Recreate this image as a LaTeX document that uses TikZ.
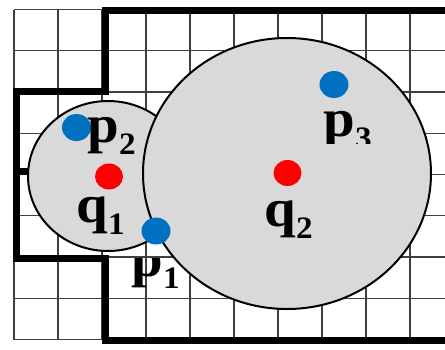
\documentclass[tikz,border=0pt]{standalone}
\usepackage{fontspec}
\setmainfont{Liberation Serif}
\definecolor{cgray}{HTML}{D9D9D9}
\definecolor{cblue}{HTML}{0070C0}
\definecolor{cred}{HTML}{FF0000}
\newcommand\lablx[2]{\scalebox{1.066}[1]{\fontsize{26.7}{28}\selectfont\bfseries #1\raisebox{-6pt}{\fontsize{15.6}{16}\selectfont #2}}}
\begin{document}
\begin{tikzpicture}[x=0.5pt,y=-0.5pt,
  gridline/.style={draw=black!75,line width=0.55pt},
  wall/.style={draw=black,line width=3.5pt,line join=miter},
  disc/.style={fill=cgray,draw=black,line width=1pt},
  lbl/.style={anchor=base west,inner sep=0pt}]
\useasboundingbox (0,0) rectangle (445,349);
% grid
\foreach \i in {0,...,9} \draw[gridline] ({14+44*\i},9.5) -- ({14+44*\i},339.5);
\foreach \j in {0,...,8} \draw[gridline] (14,{9.5+41.25*\j}) -- (445,{9.5+41.25*\j});
% walls
\draw[wall] (445,10) -- (105,10) -- (105,91.5) -- (16.5,91.5) -- (16.5,258) -- (105,258) -- (105,340) -- (445,340);
\draw[wall] (16.5,171) -- (45,171);
% circles
\coordinate (c1) at (108,176);
\coordinate (c2) at (287,173.5);
\draw[disc] (c1) ellipse [x radius=80, y radius=75];
\draw[disc] (c2) ellipse [x radius=144, y radius=135.5];
% dots
\coordinate (q1) at (109,176.5);
\coordinate (q2) at (287.5,173);
\coordinate (p1) at (156,231);
\coordinate (p2) at (76.5,127.5);
\coordinate (p3) at (334,84.5);
\fill[cred] (q1) ellipse [x radius=14, y radius=13];
\fill[cred] (q2) ellipse [x radius=14, y radius=13];
\fill[cblue] (p1) ellipse [x radius=14.5, y radius=13.5];
\fill[cblue] (p2) ellipse [x radius=14.5, y radius=13.5];
\fill[cblue] (p3) ellipse [x radius=14.5, y radius=13.5];
% labels
\node[lbl] (lp2) at (87,142) {\lablx{p}{2}};
\node[lbl] (lq1) at (76,222) {\lablx{q}{1}};
\node[lbl] (lq2) at (264,226) {\lablx{q}{2}};
\begin{scope}
\clip (0,0) rectangle (445,143);
\node[lbl] (lp3) at (323,136) {\lablx{p}{3}};
\end{scope}
\begin{scope}
\clip (0,258) rectangle (445,349);
\node[lbl] (lp1) at (131,276) {\lablx{p}{1}};
\end{scope}
\end{tikzpicture}
\end{document}
